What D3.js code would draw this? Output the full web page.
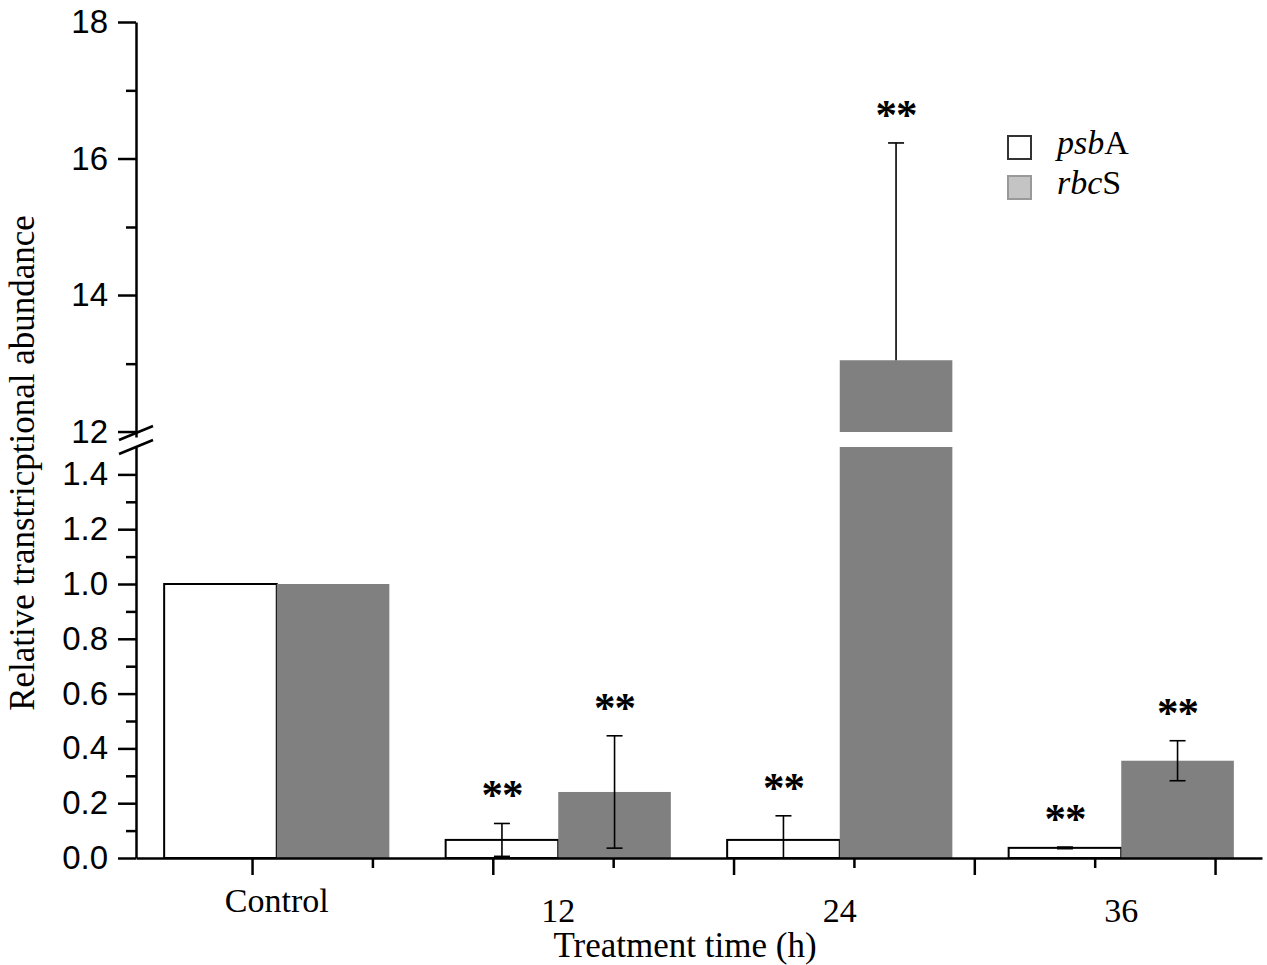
<!DOCTYPE html>
<html>
<head>
<meta charset="utf-8">
<script src="https://cdn.jsdelivr.net/npm/d3@7"></script>
<style>
  body { margin: 0; background: #fff; }
  text { fill: #000; }
</style>
</head>
<body>
<div id="chart"></div>
<script>
// data
const groups = ["Control", "12", "24", "36"];
const genes = ["psbA", "rbcS"];
const psbA = [1.0, 0.066, 0.066, 0.037];
const psbAErr = [0, 0.06, 0.088, 0.003];
const rbcS = [1.0, 0.241, 13.05, 0.355];
const rbcSErr = [0, 0.205, 3.18, 0.073];
const psbAMark = ["", "**", "**", "**"];
const rbcSMark = ["", "**", "**", "**"];
const yTicksLow = [0, 0.2, 0.4, 0.6, 0.8, 1.0, 1.2, 1.4];
const yMinorLow = [0.1, 0.3, 0.5, 0.7, 0.9, 1.1, 1.3];
const yTicksHigh = [12, 14, 16, 18];
const yMinorHigh = [13, 15, 17];

function drawChart() {
  const w = 1267, h = 965;
  const left = 136, right = 1262, base = 858;
  const breakLow = 1.5, breakHigh = 12;

  const svg = d3.select("#chart").append("svg")
    .attr("width", w).attr("height", h);

  // broken y axis: two linear pieces
  const yLow = d3.scaleLinear().domain([0, breakLow]).range([base, 447]);
  const yHigh = d3.scaleLinear().domain([breakHigh, 18]).range([432, 22]);
  const y = v => (v <= breakLow ? yLow(v) : yHigh(v));

  const x0 = d3.scaleBand().domain(groups).range([left, right])
    .paddingInner(0.2).paddingOuter(0.1);
  const x1 = d3.scaleBand().domain(genes).range([0, x0.bandwidth()]);

  // rows for each bar
  const rows = [];
  groups.forEach((g, i) => {
    rows.push({ g, gene: "psbA", v: psbA[i], e: psbAErr[i], mark: psbAMark[i] });
    rows.push({ g, gene: "rbcS", v: rbcS[i], e: rbcSErr[i], mark: rbcSMark[i] });
  });
  const fill = { psbA: "#ffffff", rbcS: "#808080" };
  const stroke = { psbA: "#000", rbcS: "none" };

  const bars = svg.append("g");
  rows.forEach(d => {
    const bx = x0(d.g) + x1(d.gene);
    const bw = x1.bandwidth();
    const pieces = d.v > breakLow
      ? [[0, breakLow], [breakHigh, d.v]]
      : [[0, d.v]];
    pieces.forEach(p => {
      bars.append("rect")
        .attr("x", bx).attr("width", bw)
        .attr("y", y(p[1]))
        .attr("height", y(p[0]) - y(p[1]))
        .attr("fill", fill[d.gene])
        .attr("stroke", stroke[d.gene])
        .attr("stroke-width", 2);
    });
  });

  // error bars
  const err = svg.append("g").attr("stroke", "#000").attr("stroke-width", 1.6);
  const cap = 8;
  rows.forEach(d => {
    if (!d.e) return;
    const cx = x0(d.g) + x1(d.gene) + x1.bandwidth() / 2;
    const top = y(d.v + d.e);
    let lowV = d.v - d.e;
    let bottomCap = true;
    if (d.v > breakLow) { lowV = d.v; bottomCap = false; }
    if (lowV < 0) { lowV = 0; bottomCap = false; }
    const bot = y(lowV);
    err.append("line").attr("x1", cx).attr("x2", cx).attr("y1", top).attr("y2", bot);
    err.append("line").attr("x1", cx - cap).attr("x2", cx + cap).attr("y1", top).attr("y2", top);
    if (bottomCap) {
      err.append("line").attr("x1", cx - cap).attr("x2", cx + cap).attr("y1", bot).attr("y2", bot);
    }
    if (d.mark) {
      svg.append("text")
        .attr("x", cx).attr("y", top - 34 + 20)
        .attr("text-anchor", "middle")
        .attr("font-family", "Liberation Serif")
        .attr("font-size", 43)
        .attr("font-weight", "bold")
        .attr("letter-spacing", -1)
        .text(d.mark);
    }
  });

  // y axes
  const styleAxis = g => {
    g.selectAll("path").attr("stroke", "#000").attr("stroke-width", 2.5);
    g.selectAll("line").attr("stroke", "#000").attr("stroke-width", 2.5);
    g.selectAll("text")
      .attr("font-family", "Liberation Sans, Arial")
      .attr("font-size", 33)
      .attr("fill", "#000");
  };
  svg.append("g").attr("transform", `translate(${left},0)`)
    .call(d3.axisLeft(yLow).tickValues(yTicksLow).tickFormat(d3.format(".1f"))
      .tickSize(18).tickSizeOuter(0).tickPadding(10))
    .call(styleAxis);
  svg.append("g").attr("transform", `translate(${left},0)`)
    .call(d3.axisLeft(yLow).tickValues(yMinorLow).tickFormat("")
      .tickSize(10).tickSizeOuter(0))
    .call(styleAxis)
    .select("path").remove();
  svg.append("g").attr("transform", `translate(${left},0)`)
    .call(d3.axisLeft(yHigh.copy().domain([11.92, 18]).range([437, 22]))
      .tickValues(yTicksHigh).tickFormat(d3.format("d"))
      .tickSize(18).tickSizeOuter(0).tickPadding(10))
    .call(styleAxis);
  svg.append("g").attr("transform", `translate(${left},0)`)
    .call(d3.axisLeft(yHigh).tickValues(yMinorHigh).tickFormat("")
      .tickSize(10).tickSizeOuter(0))
    .call(styleAxis)
    .select("path").remove();

  // break marks
  const brk = svg.append("g").attr("stroke", "#000").attr("stroke-width", 2.5);
  [440, 454].forEach(yy => {
    brk.append("line")
      .attr("x1", left - 17).attr("y1", yy)
      .attr("x2", left + 17).attr("y2", yy - 14);
  });

  // x axis (Origin style ticks not tied to the groups)
  const xAxisScale = d3.scaleLinear().domain([-0.482, 4.195]).range([left, right]);
  svg.append("g").attr("transform", `translate(0,${base})`)
    .call(d3.axisBottom(xAxisScale).tickValues([0, 1, 2, 3, 4]).tickFormat("")
      .tickSize(17).tickSizeOuter(0))
    .call(styleAxis);
  svg.append("g").attr("transform", `translate(0,${base})`)
    .call(d3.axisBottom(xAxisScale).tickValues([0.5, 1.5, 2.5, 3.5]).tickFormat("")
      .tickSize(10).tickSizeOuter(0))
    .call(styleAxis)
    .select("path").remove();

  // category labels
  svg.append("g").selectAll("text").data(groups).join("text")
    .attr("x", d => x0(d) + x0.bandwidth() / 2)
    .attr("y", (d, i) => (i === 0 ? 912 : 922))
    .attr("text-anchor", "middle")
    .attr("font-family", "Liberation Serif")
    .attr("font-size", 34)
    .text(d => d);

  // axis titles
  svg.append("text")
    .attr("x", 685).attr("y", 957)
    .attr("text-anchor", "middle")
    .attr("font-family", "Liberation Serif")
    .attr("font-size", 35)
    .text("Treatment time (h)");
  svg.append("text")
    .attr("transform", "translate(34,463) rotate(-90)")
    .attr("text-anchor", "middle")
    .attr("font-family", "Liberation Serif")
    .attr("font-size", 35)
    .text("Relative transtricptional abundance");

  // legend
  const legend = svg.append("g").attr("transform", "translate(1008,136)");
  const legFill = { psbA: "#ffffff", rbcS: "#c4c4c4" };
  const legStroke = { psbA: "#333", rbcS: "#999" };
  const legParts = { psbA: ["psb", "A"], rbcS: ["rbc", "S"] };
  genes.forEach((gene, i) => {
    const row = legend.append("g").attr("transform", `translate(0,${i * 40})`);
    row.append("rect").attr("width", 23).attr("height", 23)
      .attr("fill", legFill[gene]).attr("stroke", legStroke[gene]).attr("stroke-width", 2);
    const t = row.append("text").attr("x", 49).attr("y", 18)
      .attr("font-family", "Liberation Serif").attr("font-size", 34);
    t.append("tspan").attr("font-style", "italic").text(legParts[gene][0]);
    t.append("tspan").text(legParts[gene][1]);
  });
}

document.addEventListener("DOMContentLoaded", drawChart);
</script>
</body>
</html>
